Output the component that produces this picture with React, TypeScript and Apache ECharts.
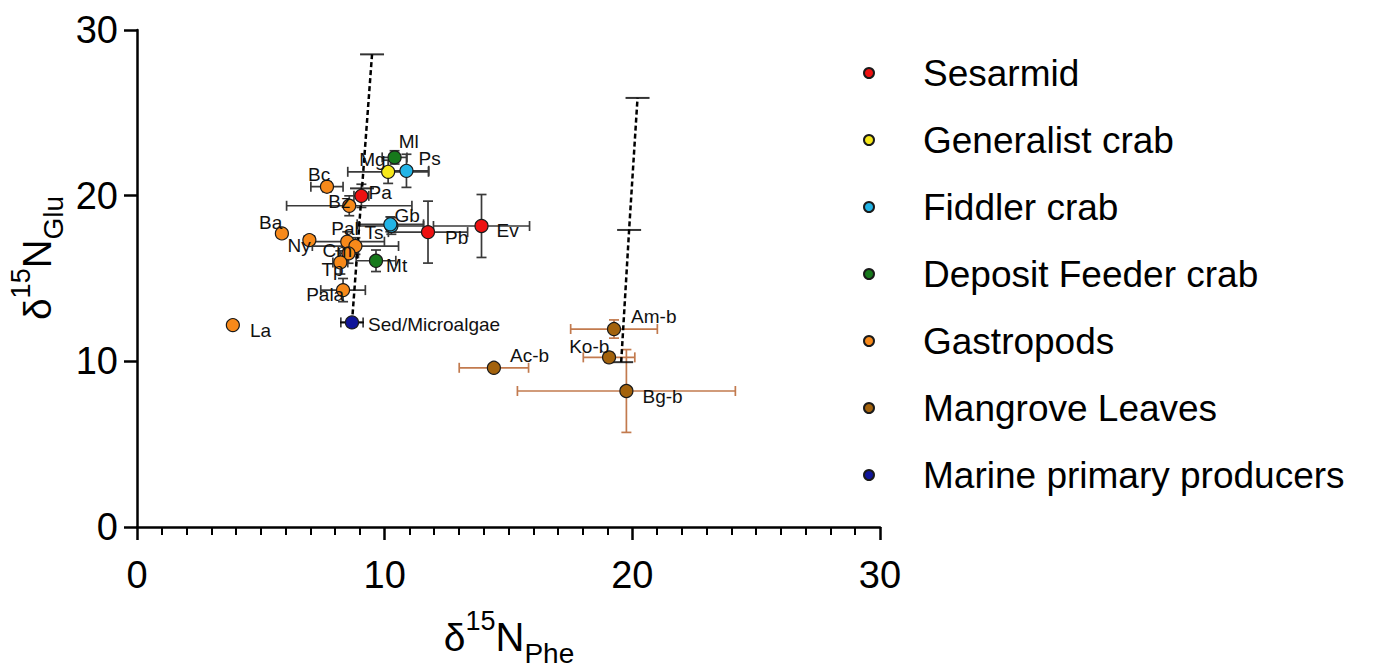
import React, { useEffect, useRef } from 'react';
import * as echarts from 'echarts';

// [label, δ15N Phe, Phe SD, δ15N Glu, Glu SD]
type Row = [string, number, number, number, number];

const sesarmid: Row[] = [
  ['Pa', 9.06, 0.3, 19.99, 0.7],
  ['Pb', 11.75, 1.6, 17.8, 1.87],
  ['Ev', 13.91, 1.94, 18.17, 1.9],
];
const generalistCrab: Row[] = [['Mg', 10.14, 1.63, 21.44, 0.7]];
const fiddlerCrab: Row[] = [
  ['Ts', 10.27, 1.3, 18.17, 0.5],
  ['Ps', 10.88, 0.9, 21.5, 1.0],
  ['Gb', 10.23, 1.34, 18.27, 0.45],
];
const depositFeederCrab: Row[] = [
  ['Ml', 10.4, 0.5, 22.31, 0.4],
  ['Mt', 9.65, 0.8, 16.07, 0.65],
];
const gastropods: Row[] = [
  ['Bc', 7.67, 0.65, 20.54, 0.3],
  ['Bz', 8.57, 2.53, 19.39, 0.6],
  ['Ba', 5.85, 0, 17.72, 0],
  ['Ny', 6.96, 0.2, 17.32, 0.2],
  ['Pal', 8.49, 1.5, 17.22, 0.6],
  ['', 8.82, 1.74, 16.96, 0.5],
  ['Cm', 8.54, 0.4, 16.52, 0.6],
  ['Tp', 8.21, 0.3, 15.97, 0.7],
  ['Pala', 8.32, 0.9, 14.3, 0.7],
  ['La', 3.87, 0, 12.19, 0],
];
const mangroveLeaves: Row[] = [
  ['Am-b', 19.26, 1.75, 11.95, 0.55],
  ['Ko-b', 19.06, 1.04, 10.24, 0.3],
  ['Ac-b', 14.41, 1.4, 9.61, 0.25],
  ['Bg-b', 19.76, 4.4, 8.21, 2.5],
];
const marinePrimaryProducers: Row[] = [['Sed/Microalgae', 8.68, 0.45, 12.35, 0.2]];

// trophic position lines (TP1, TP2, TP3) from each source
const trophicLineMarine: [number, number][] = [[8.68, 12.35], [9.085, 20.44], [9.49, 28.53]];
const trophicLineMangrove: [number, number][] = [[19.55, 9.95], [19.87, 17.93], [20.21, 25.9]];

const groupNames = [
  'Sesarmid',
  'Generalist crab',
  'Fiddler crab',
  'Deposit Feeder crab',
  'Gastropods',
  'Mangrove Leaves',
  'Marine primary producers',
];
const groupRows = [sesarmid, generalistCrab, fiddlerCrab, depositFeederCrab, gastropods, mangroveLeaves, marinePrimaryProducers];
const groupColors = ['#ee1111', '#f7e81a', '#22b4e6', '#17791c', '#f7891a', '#a3620c', '#10159a'];
const errorColors = ['#3a3a3a', '#3a3a3a', '#3a3a3a', '#3a3a3a', '#3a3a3a', '#c27a4e', '#3a3a3a'];

const xTicks = [0, 10, 20, 30];
const yTicks = [0, 10, 20, 30];

// label placement (text left-middle relative to symbol edge), styling only
const LABEL_OFFSET: Record<string, [number, number]> = {
  Ml: [-3, -16], Mg: [-36, -12], Ps: [5, -12], Bc: [-26, -12], Pa: [0, -3], Bz: [-28, -4],
  Gb: [-3, -9], Ts: [-34, 7], Ba: [-30, -11], Pal: [-23, -13], Ny: [-29, 5], Cm: [-33, -3],
  Tp: [-26, 7], Mt: [3, 5], Pb: [10, 5], Ev: [8, 5], Pala: [-44, 4], La: [10, 5],
  'Sed/Microalgae': [9, 2], 'Am-b': [10, -13], 'Ko-b': [-47, -11], 'Ac-b': [9, -12], 'Bg-b': [9, 6],
};

const FONT = "'Liberation Sans', Arial, Helvetica, sans-serif";

function errorBarSeries(name: string, rows: Row[], color: string) {
  return {
    type: 'custom',
    name: name + ' SD',
    z: 2,
    silent: true,
    data: rows.map((r) => [r[1], r[3], r[2], r[4]]),
    encode: { x: 0, y: 1 },
    renderItem: (_params: any, api: any) => {
      const x = api.value(0), y = api.value(1), xe = api.value(2), ye = api.value(3);
      const cap = 5;
      const style = { stroke: color, lineWidth: 1.7 };
      const ln = (x1: number, y1: number, x2: number, y2: number) => ({
        type: 'line', shape: { x1, y1, x2, y2 }, style,
      });
      const children: any[] = [];
      if (xe > 0) {
        const l = api.coord([x - xe, y]);
        const r = api.coord([x + xe, y]);
        children.push(ln(l[0], l[1], r[0], r[1]));
        children.push(ln(l[0], l[1] - cap, l[0], l[1] + cap));
        children.push(ln(r[0], r[1] - cap, r[0], r[1] + cap));
      }
      if (ye > 0) {
        const t = api.coord([x, y + ye]);
        const b = api.coord([x, y - ye]);
        children.push(ln(t[0], t[1], b[0], b[1]));
        children.push(ln(t[0] - cap, t[1], t[0] + cap, t[1]));
        children.push(ln(b[0] - cap, b[1], b[0] + cap, b[1]));
      }
      return { type: 'group', children };
    },
  };
}

function pointSeries(name: string, rows: Row[], color: string) {
  return {
    type: 'scatter',
    name,
    z: 4,
    symbol: 'circle',
    symbolSize: 13,
    itemStyle: { color, borderColor: '#1a1a1a', borderWidth: 1.2, opacity: 1 },
    label: {
      show: true,
      position: 'right',
      distance: 0,
      formatter: (p: any) => p.name,
      fontFamily: FONT,
      fontSize: 19,
      color: '#111',
    },
    emphasis: { disabled: true },
    data: rows.map((r) => ({
      name: r[0],
      value: [r[1], r[3]],
      label: { offset: LABEL_OFFSET[r[0]] || [4, 0] },
    })),
  };
}

function trophicSeries(id: string, pts: [number, number][]) {
  return [
    {
      type: 'line',
      name: id,
      z: 3,
      silent: true,
      symbol: 'none',
      data: pts,
      lineStyle: { color: '#000', width: 2.5, type: [5, 3] },
    },
    {
      type: 'scatter',
      name: id + ' TP',
      z: 3,
      silent: true,
      symbol: 'rect',
      symbolSize: [24, 2],
      itemStyle: { color: '#000' },
      data: pts,
    },
  ];
}

export default function App() {
  const ref = useRef<HTMLDivElement>(null);
  useEffect(() => {
    if (!ref.current) return;
    const chart = echarts.init(ref.current, undefined, { renderer: 'svg' });
    const rich = {
      d: { fontSize: 39, fontFamily: FONT, color: '#000', lineHeight: 60 },
      n: { fontSize: 40, fontFamily: FONT, color: '#000', lineHeight: 60 },
      s: { fontSize: 27, fontFamily: FONT, color: '#000', lineHeight: 27, verticalAlign: 'top' },
      b: { fontSize: 28, fontFamily: FONT, color: '#000', lineHeight: 28, verticalAlign: 'bottom' },
    };
    const series: any[] = [];
    groupNames.forEach((g, i) => series.push(errorBarSeries(g, groupRows[i], errorColors[i])));
    series.push(...trophicSeries('TP marine', trophicLineMarine));
    series.push(...trophicSeries('TP mangrove', trophicLineMangrove));
    groupNames.forEach((g, i) => series.push(pointSeries(g, groupRows[i], groupColors[i])));

    chart.setOption({
      animation: false,
      backgroundColor: '#fff',
      textStyle: { fontFamily: FONT },
      grid: { left: 137, top: 30, width: 743, height: 497, containLabel: false },
      xAxis: {
        type: 'value',
        min: xTicks[0],
        max: xTicks[xTicks.length - 1],
        interval: 10,
        axisLine: { show: true, onZero: false, lineStyle: { color: '#000', width: 2.5 } },
        axisTick: { show: true, length: 13, lineStyle: { color: '#000', width: 2.5 } },
        minorTick: { show: true, splitNumber: 10, length: 8, lineStyle: { color: '#000', width: 2 } },
        axisLabel: { fontSize: 38, color: '#000', margin: 29, fontFamily: FONT },
        splitLine: { show: false },
        minorSplitLine: { show: false },
      },
      yAxis: {
        type: 'value',
        min: yTicks[0],
        max: yTicks[yTicks.length - 1],
        interval: 10,
        axisLine: { show: true, onZero: false, lineStyle: { color: '#000', width: 2.5 } },
        axisTick: { show: true, length: 13, lineStyle: { color: '#000', width: 2.5 } },
        axisLabel: { fontSize: 38, color: '#000', margin: 19, fontFamily: FONT },
        splitLine: { show: false },
      },
      legend: {
        data: groupNames,
        orient: 'vertical',
        left: 858,
        top: 48,
        icon: 'circle',
        itemWidth: 98,
        itemHeight: 10,
        itemGap: 27,
        selectedMode: false,
        textStyle: { fontSize: 37, lineHeight: 40, color: '#000', fontFamily: FONT },
      },
      graphic: [
        {
          type: 'text',
          x: 509,
          y: 637,
          style: {
            text: '{d|δ}{s|15}{n|N}{b|Phe}',
            rich,
            align: 'center',
            verticalAlign: 'middle',
          },
        },
        {
          type: 'text',
          x: 37,
          y: 258,
          rotation: Math.PI / 2,
          style: {
            text: '{d|δ}{s|15}{n|N}{b|Glu}',
            rich,
            align: 'center',
            verticalAlign: 'middle',
          },
        },
      ],
      series,
    });
    return () => chart.dispose();
  }, []);
  return (
    <div style={{ position: 'fixed', left: 0, top: 0, width: 1376, height: 667, overflow: 'hidden' }}>
      <div ref={ref} style={{ width: 1480, height: 667 }} />
    </div>
  );
}
